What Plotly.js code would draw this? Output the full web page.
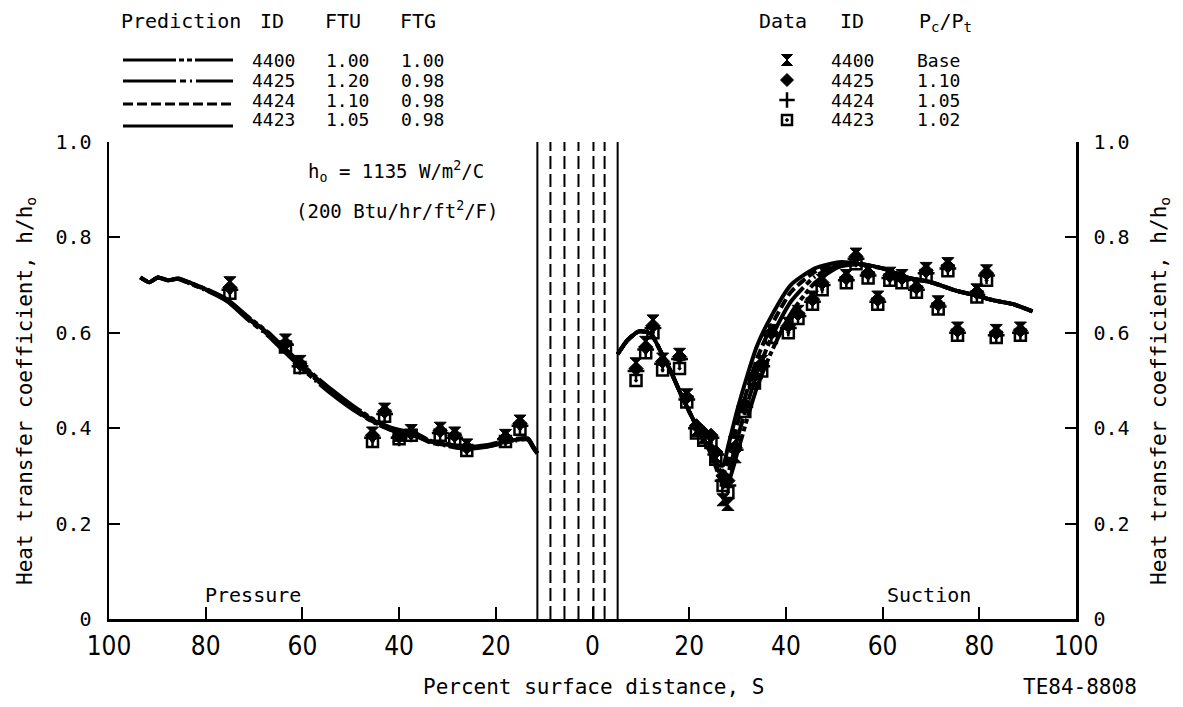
<!DOCTYPE html>
<html>
<head>
<meta charset="utf-8">
<script src="https://cdn.plot.ly/plotly-3.0.1.min.js"></script>
<style>html,body{margin:0;padding:0;background:#fff;}#chart{width:1183px;height:707px;}</style>
</head>
<body>
<div id="chart"></div>
<script>
// ---------------- DATA ----------------
const xTickVals = [-100, -80, -60, -40, -20, 0, 20, 40, 60, 80, 100];
const xTickText = ['100', '80', '60', '40', '20', '0', '20', '40', '60', '80', '100'];
const yTickVals = [0, 0.2, 0.4, 0.6, 0.8, 1.0];
const yTickText = ['0', '0.2', '0.4', '0.6', '0.8', '1.0'];

// leading-edge region boundary lines (percent surface distance)
const leadingEdgeSolid = [-11.4, 5.2];
const leadingEdgeDashed = [-8.7, -5.8, -2.9, 0.2, 2.5];

// Prediction legend table
const predictionIDs = ['4400', '4425', '4424', '4423'];
const predictionFTU = ['1.00', '1.20', '1.10', '1.05'];
const predictionFTG = ['1.00', '0.98', '0.98', '0.98'];

// Data legend table
const dataIDs = ['4400', '4425', '4424', '4423'];
const dataPcPt = ['Base', '1.10', '1.05', '1.02'];

// Prediction curves: pressure side (negative S) and suction side
const predPressureX = [-93.5, -91.7, -89.9, -87.8, -85.7, -83, -79.5, -75.4, -71.3, -67.1, -63.8, -58.9, -54.1, -49.4, -45.2, -41.7, -36.2, -33.5, -30, -26.7, -21.7, -16.9, -13.4, -12.2, -11.4];
const pred4400Pressure = [0.716, 0.706, 0.716, 0.710, 0.714, 0.704, 0.690, 0.669, 0.634, 0.601, 0.569, 0.523, 0.482, 0.446, 0.418, 0.401, 0.387, 0.374, 0.367, 0.361, 0.365, 0.376, 0.379, 0.361, 0.348];
const pred4425Pressure = [0.716, 0.706, 0.716, 0.710, 0.713, 0.702, 0.687, 0.665, 0.628, 0.594, 0.561, 0.514, 0.473, 0.438, 0.412, 0.396, 0.382, 0.370, 0.363, 0.357, 0.361, 0.372, 0.376, 0.358, 0.347];
const pred4424Pressure = [0.716, 0.706, 0.716, 0.710, 0.713, 0.703, 0.688, 0.666, 0.630, 0.596, 0.563, 0.517, 0.476, 0.440, 0.413, 0.397, 0.383, 0.371, 0.364, 0.358, 0.362, 0.373, 0.377, 0.359, 0.347];
const pred4423Pressure = [0.716, 0.706, 0.716, 0.710, 0.714, 0.704, 0.689, 0.668, 0.632, 0.599, 0.567, 0.521, 0.479, 0.443, 0.416, 0.399, 0.385, 0.372, 0.365, 0.359, 0.363, 0.374, 0.378, 0.360, 0.347];

const predSuctionX = [5.2, 7.2, 9.6, 12, 14, 16.1, 18.2, 20.2, 22.3, 24.4, 26, 27, 28, 30, 32, 34, 37, 41, 46, 51, 55, 60, 65, 70, 75, 79, 83, 87, 91];
const pred4400Suction = [0.555, 0.584, 0.603, 0.599, 0.563, 0.521, 0.473, 0.431, 0.389, 0.348, 0.305, 0.280, 0.285, 0.350, 0.420, 0.485, 0.560, 0.640, 0.705, 0.738, 0.743, 0.735, 0.716, 0.706, 0.689, 0.679, 0.668, 0.660, 0.645];
const pred4425Suction = [0.555, 0.584, 0.603, 0.599, 0.563, 0.521, 0.473, 0.431, 0.389, 0.350, 0.312, 0.292, 0.305, 0.380, 0.450, 0.515, 0.590, 0.665, 0.718, 0.742, 0.744, 0.735, 0.716, 0.706, 0.689, 0.679, 0.668, 0.660, 0.645];
const pred4424Suction = [0.555, 0.584, 0.603, 0.599, 0.563, 0.521, 0.473, 0.431, 0.389, 0.352, 0.318, 0.305, 0.330, 0.410, 0.480, 0.545, 0.615, 0.685, 0.728, 0.745, 0.745, 0.735, 0.716, 0.706, 0.689, 0.679, 0.668, 0.660, 0.645];
const pred4423Suction = [0.555, 0.584, 0.603, 0.599, 0.563, 0.521, 0.473, 0.431, 0.389, 0.353, 0.322, 0.322, 0.360, 0.440, 0.510, 0.572, 0.635, 0.700, 0.735, 0.748, 0.745, 0.735, 0.716, 0.706, 0.689, 0.679, 0.668, 0.660, 0.645];

// Measured data (shared station locations)
const stationS = [-75, -63.5, -60.5, -45.5, -43, -40, -37.5, -31.5, -28.5, -26, -18, -15,
  9, 11, 12.5, 14.5, 18, 19.5, 21.5, 23, 24.5, 25.5, 27, 28, 29.5, 31.5, 33.5, 35, 37, 40.5, 42.5, 45.5, 47.5,
  52.5, 54.5, 57, 59, 61.5, 64, 67, 69, 71.5, 73.5, 75.5, 79.5, 81.5, 83.5, 88.5];
const data4400 = [0.705, 0.585, 0.540, 0.390, 0.440, 0.385, 0.395, 0.400, 0.390, 0.365, 0.385, 0.415,
  0.535, 0.580, 0.625, 0.545, 0.555, 0.470, 0.395, 0.380, 0.370, 0.340, 0.250, 0.240, 0.340, 0.445, 0.500, 0.540, 0.605, 0.620, 0.645, 0.675, 0.710,
  0.720, 0.765, 0.730, 0.675, 0.725, 0.720, 0.700, 0.735, 0.665, 0.745, 0.610, 0.690, 0.730, 0.605, 0.610];
const data4425 = [0.695, 0.578, 0.535, 0.385, 0.435, 0.383, 0.390, 0.395, 0.385, 0.360, 0.380, 0.410,
  0.525, 0.570, 0.615, 0.540, 0.550, 0.465, 0.405, 0.390, 0.385, 0.350, 0.300, 0.290, 0.360, 0.450, 0.510, 0.535, 0.600, 0.615, 0.640, 0.670, 0.705,
  0.715, 0.760, 0.725, 0.670, 0.720, 0.715, 0.695, 0.730, 0.660, 0.740, 0.605, 0.685, 0.725, 0.600, 0.605];
const data4424 = [0.690, 0.575, 0.530, 0.380, 0.430, 0.380, 0.388, 0.390, 0.380, 0.357, 0.377, 0.405,
  0.520, 0.565, 0.610, 0.535, 0.545, 0.460, 0.400, 0.385, 0.380, 0.345, 0.290, 0.280, 0.355, 0.445, 0.505, 0.530, 0.595, 0.610, 0.635, 0.665, 0.700,
  0.710, 0.755, 0.720, 0.665, 0.715, 0.710, 0.690, 0.725, 0.655, 0.735, 0.600, 0.680, 0.720, 0.595, 0.600];
const data4423 = [0.683, 0.570, 0.527, 0.372, 0.425, 0.378, 0.385, 0.385, 0.377, 0.353, 0.372, 0.398,
  0.500, 0.558, 0.600, 0.522, 0.525, 0.455, 0.390, 0.375, 0.370, 0.335, 0.280, 0.265, 0.370, 0.435, 0.495, 0.520, 0.590, 0.600, 0.630, 0.660, 0.690,
  0.705, 0.745, 0.715, 0.660, 0.710, 0.705, 0.685, 0.720, 0.650, 0.730, 0.595, 0.675, 0.710, 0.590, 0.595];

// ---------------- STYLE / LAYOUT ----------------
const W = 1183, H = 707;
const FONT = 'DejaVu Sans Mono';
const NARROW = 'Liberation Sans Narrow, DejaVu Sans Condensed, sans-serif';
const fx = px => px / W;
const fy = py => 1 - py / H;
const plotL = 109, plotR = 1076, plotT = 142, plotB = 619;

const predDash = {
  '4400': '53px,3px,5px,3px,5px,3px',
  '4425': '53px,4px,6px,4px,2px,4px',
  '4424': '10px,4px',
  '4423': 'solid'
};
const predData = {
  '4400': [pred4400Pressure, pred4400Suction],
  '4425': [pred4425Pressure, pred4425Suction],
  '4424': [pred4424Pressure, pred4424Suction],
  '4423': [pred4423Pressure, pred4423Suction]
};
const markerStyle = {
  '4400': {symbol: 'hourglass', size: 12, color: '#000', line: {color: '#000', width: 1}},
  '4425': {symbol: 'diamond', size: 11, color: '#000', line: {color: '#000', width: 1}},
  '4424': {symbol: 'cross-thin', size: 12, color: '#000', line: {color: '#000', width: 2.5}},
  '4423': {symbol: 'square-open-dot', size: 11, color: '#000', line: {color: '#000', width: 2.5}}
};
const dataSeries = {'4400': data4400, '4425': data4425, '4424': data4424, '4423': data4423};

const traces = [];
predictionIDs.forEach(id => {
  const [p, s] = predData[id];
  traces.push({
    type: 'scatter', mode: 'lines', name: 'Prediction ' + id,
    x: predPressureX.concat([null], predSuctionX),
    y: p.concat([null], s),
    connectgaps: false,
    line: {color: '#000', width: 4, dash: predDash[id], shape: 'spline', smoothing: 0.6},
    xaxis: 'x', yaxis: 'y', showlegend: false, hoverinfo: 'skip'
  });
});
dataIDs.forEach(id => {
  traces.push({
    type: 'scatter', mode: 'markers', name: 'Data ' + id,
    x: stationS, y: dataSeries[id],
    marker: markerStyle[id],
    xaxis: 'x', yaxis: 'y', showlegend: false, cliponaxis: false
  });
});
// invisible trace to keep the right-hand axis
traces.push({type: 'scatter', mode: 'markers', x: [0], y: [0.5], yaxis: 'y2', xaxis: 'x',
  marker: {opacity: 0}, showlegend: false, hoverinfo: 'skip'});

// legend samples on a pixel-coordinate overlay subplot
const predRowLineY = [60, 81, 104, 126];
const dataRowY = [60, 80, 100, 120];
predictionIDs.forEach((id, i) => {
  traces.push({type: 'scatter', mode: 'lines', x: [123, 233], y: [predRowLineY[i], predRowLineY[i]],
    line: {color: '#000', width: 3, dash: predDash[id]}, xaxis: 'x2', yaxis: 'y3',
    showlegend: false, hoverinfo: 'skip', cliponaxis: false});
});
dataIDs.forEach((id, i) => {
  traces.push({type: 'scatter', mode: 'markers', x: [787], y: [dataRowY[i]],
    marker: Object.assign({}, markerStyle[id], {size: markerStyle[id].size - 1}),
    xaxis: 'x2', yaxis: 'y3', showlegend: false, hoverinfo: 'skip', cliponaxis: false});
});

const txt = (text, px, py, size, extra) => Object.assign({
  text: text, x: fx(px), y: fy(py), xref: 'paper', yref: 'paper',
  showarrow: false, xanchor: 'center', yanchor: 'middle',
  font: {family: FONT, size: size || 20, color: '#000'}
}, extra || {});

const annotations = [
  txt('h<sub>o</sub> = 1135 W/m<sup>2</sup>/C', 396, 172, 19),
  txt('(200 Btu/hr/ft<sup>2</sup>/F)', 397, 210, 19),
  txt('Pressure', 253, 595, 20),
  txt('Suction', 929, 595, 20),
  txt('Percent surface distance, S', 593, 687, 21),
  txt('TE84-8808', 1080, 687, 21),
  txt('Heat transfer coefficient, h/h<sub>o</sub>', 26, 391, 21, {textangle: -90}),
  txt('Heat transfer coefficient, h/h<sub>o</sub>', 1160, 391, 21, {textangle: -90}),
  // prediction table header
  txt('Prediction', 181, 21, 20),
  txt('ID', 272, 21, 20),
  txt('FTU', 343, 21, 20),
  txt('FTG', 418, 21, 20),
  // data table header
  txt('Data', 783, 21, 20),
  txt('ID', 852, 21, 20),
  txt('P<sub>c</sub>/P<sub>t</sub>', 945, 22, 20)
];
const predRowTextY = [60, 80, 100, 120];
predictionIDs.forEach((id, i) => {
  annotations.push(txt(id, 273, predRowTextY[i], 18));
  annotations.push(txt(predictionFTU[i], 347, predRowTextY[i], 18));
  annotations.push(txt(predictionFTG[i], 422, predRowTextY[i], 18));
});
dataIDs.forEach((id, i) => {
  annotations.push(txt(id, 852, dataRowY[i], 18));
  annotations.push(txt(dataPcPt[i], 915, dataRowY[i], 18, {xanchor: 'left'}));
});

const shapes = [];
leadingEdgeSolid.forEach(s => shapes.push({type: 'line', xref: 'x', yref: 'y', x0: s, x1: s, y0: 0, y1: 1,
  line: {color: '#000', width: 2}}));
leadingEdgeDashed.forEach(s => shapes.push({type: 'line', xref: 'x', yref: 'y', x0: s, x1: s, y0: 0, y1: 1,
  line: {color: '#000', width: 2, dash: '13px,5px'}}));

const axisFont = {family: FONT, size: 20, color: '#000'};
const layout = {
  width: W, height: H,
  margin: {l: 0, r: 0, t: 0, b: 0, pad: 0},
  paper_bgcolor: '#fff', plot_bgcolor: 'rgba(0,0,0,0)',
  showlegend: false,
  font: {family: FONT, size: 20, color: '#000'},
  xaxis: {
    domain: [plotL / W, plotR / W], range: [-100, 100], anchor: 'y',
    tickmode: 'array', tickvals: xTickVals, ticktext: xTickText,
    ticks: 'inside', ticklen: 12, tickwidth: 2, tickcolor: '#000',
    showline: true, linewidth: 2.5, linecolor: '#000', showgrid: false, zeroline: false,
    tickfont: {family: NARROW, size: 26, color: '#000'}, ticklabelstandoff: 2
  },
  yaxis: {
    domain: [1 - plotB / H, 1 - plotT / H], range: [0, 1], anchor: 'x',
    tickmode: 'array', tickvals: yTickVals, ticktext: yTickText,
    ticks: 'inside', ticklen: 11, tickwidth: 2, tickcolor: '#000',
    showline: true, linewidth: 2.5, linecolor: '#000', showgrid: false, zeroline: false,
    tickfont: axisFont, ticklabelstandoff: 11
  },
  yaxis2: {
    overlaying: 'y', side: 'right', range: [0, 1], anchor: 'x',
    tickmode: 'array', tickvals: yTickVals, ticktext: yTickText,
    ticks: 'inside', ticklen: 11, tickwidth: 2, tickcolor: '#000',
    showline: true, linewidth: 2.5, linecolor: '#000', showgrid: false, zeroline: false,
    tickfont: axisFont, ticklabelstandoff: 11
  },
  xaxis2: {domain: [0, 1], range: [0, W], anchor: 'y3', visible: false, fixedrange: true},
  yaxis3: {domain: [0, 1], range: [H, 0], anchor: 'x2', visible: false, fixedrange: true},
  annotations: annotations,
  shapes: shapes
};

Plotly.newPlot('chart', traces, layout, {displayModeBar: false, staticPlot: true});
</script>
</body>
</html>
